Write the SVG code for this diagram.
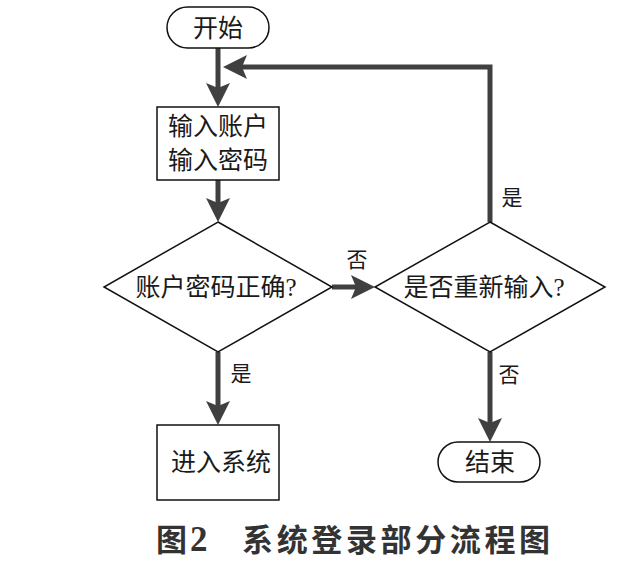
<svg xmlns="http://www.w3.org/2000/svg" width="622" height="568" viewBox="0 0 622 568">
<style>
.node{fill:#fff;stroke:#111;stroke-width:1.5}
.t{font-family:"Liberation Serif","Noto Sans CJK SC",serif;font-size:25px;fill:#1a1a1a;text-anchor:middle;dominant-baseline:central}
.lbl{font-family:"Liberation Serif","Noto Sans CJK SC",serif;font-size:21px;fill:#1a1a1a;text-anchor:middle;dominant-baseline:central}
.c{fill:none;stroke:#404040;stroke-width:5;marker-end:url(#ah)}
.cap{font-family:"Noto Sans CJK SC",sans-serif;font-size:31px;font-weight:bold;fill:#333}
</style>
<defs>
<marker id="ah" viewBox="-25 -13 26 26" refX="-10" refY="0" markerWidth="26" markerHeight="26" markerUnits="userSpaceOnUse" orient="auto">
<path d="M0,0 L-24,-12 L-19,0 L-24,12 Z" fill="#404040"/>
</marker>
</defs>
<rect width="622" height="568" fill="#fff"/>
<g id="connectors">
<line class="c" x1="218" y1="48" x2="218" y2="97"/>
<line class="c" x1="218" y1="180" x2="218" y2="212"/>
<line class="c" x1="218" y1="352" x2="218" y2="415"/>
<line class="c" x1="332" y1="287" x2="365" y2="287"/>
<line class="c" x1="490" y1="352" x2="490" y2="432"/>
<polyline class="c" points="490,222 490,67 233,67"/>
</g>
<g id="start">
<rect class="node" x="167" y="7" width="102" height="41" rx="20.5"/>
<text class="t" x="218" y="28">开始</text>
</g>
<g id="input">
<rect class="node" x="157" y="107" width="122" height="73"/>
<text class="t" x="218" y="126">输入账户</text>
<text class="t" x="218" y="160">输入密码</text>
</g>
<g id="check">
<polygon class="node" points="218,222 332,287 218,352 104,287"/>
<text class="t" x="216" y="287">账户密码正确?</text>
</g>
<g id="retry">
<polygon class="node" points="490,222 605,287 490,352 375,287"/>
<text class="t" x="484" y="287">是否重新输入?</text>
</g>
<g id="enter">
<rect class="node" x="157" y="425" width="122" height="75"/>
<text class="t" x="221" y="462">进入系统</text>
</g>
<g id="end">
<rect class="node" x="438" y="442" width="102" height="40" rx="20"/>
<text class="t" x="490" y="462">结束</text>
</g>
<g id="labels">
<text class="lbl" x="357" y="260">否</text>
<text class="lbl" x="512" y="198">是</text>
<text class="lbl" x="241" y="374">是</text>
<text class="lbl" x="509" y="375">否</text>
</g>
<g id="caption">
<text class="cap" x="156" y="551">图</text>
<text x="190" y="551" font-family="Liberation Serif" font-size="35" font-weight="bold" fill="#333">2</text>
<text class="cap" x="242" y="551" textLength="308" lengthAdjust="spacing">系统登录部分流程图</text>
</g>
</svg>
